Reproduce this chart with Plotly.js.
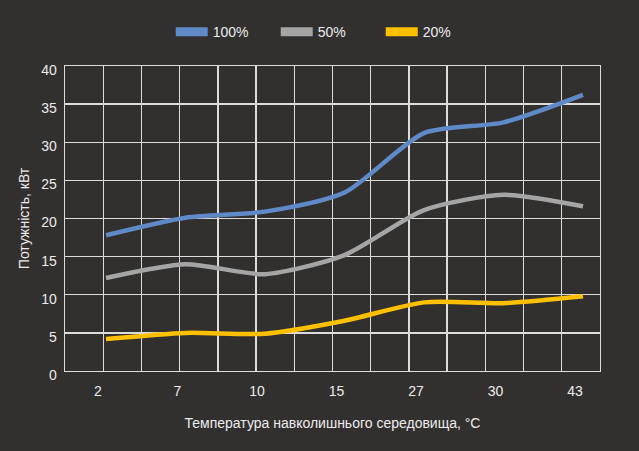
<!DOCTYPE html>
<html>
<head>
<meta charset="utf-8">
<script src="https://cdn.plot.ly/plotly-3.0.1.min.js"></script>
<style>
	html, body { margin: 0; padding: 0; background: #322f2f; }
	#chart { width: 639px; height: 451px; }
</style>
</head>
<body>
<div id="chart"></div>
<script>
// ambient temperature categories, °C
const temps = ['2', '7', '10', '15', '27', '30', '43'];
// power, kW, per load level
const load100 = [17.8, 20.1, 20.9, 23.4, 31.2, 32.6, 36.2];
const load50 = [12.2, 14.0, 12.7, 15.2, 21.1, 23.1, 21.6];
const load20 = [4.2, 5.0, 4.9, 6.6, 9.0, 8.9, 9.8];
const seriesNames = ['100%', '50%', '20%'];
const seriesColors = ['#5f8ac7', '#a5a5a5', '#ffc000'];

const idx = temps.map((t, i) => i);
const gridColor = '#dcdcdc';
const textColor = '#ececec';
const font = 'Liberation Sans, Arial, sans-serif';

const curves = [load100, load50, load20].map((vals, i) => ({
	x: idx,
	y: vals,
	type: 'scatter',
	mode: 'lines',
	name: seriesNames[i],
	line: { color: seriesColors[i], width: 4.5, shape: 'spline', smoothing: 0.7 },
	showlegend: false,
	hoverinfo: 'skip',
}));

// legend swatches (wide flat bars like the original)
const keys = seriesNames.map((name, i) => ({
	x: [null],
	y: [null],
	type: 'scatter',
	mode: 'lines',
	name: name,
	line: { color: seriesColors[i], width: 9 },
	showlegend: true,
}));

const xLeft = -0.5157;
const xRight = 6.2138;

const layout = {
	width: 639,
	height: 451,
	paper_bgcolor: '#322f2f',
	plot_bgcolor: '#322f2f',
	margin: { l: 65, r: 39, t: 66, b: 80 },
	font: { family: font, size: 14, color: textColor },
	showlegend: true,
	legend: {
		orientation: 'h',
		x: 0.492,
		xanchor: 'center',
		y: 1.111,
		yanchor: 'middle',
		itemwidth: 32,
		entrywidth: 58,
		entrywidthmode: 'pixels',
		font: { family: font, size: 14, color: textColor },
		bgcolor: 'rgba(0,0,0,0)',
	},
	xaxis: {
		range: [xLeft, xRight],
		tickmode: 'array',
		tickvals: idx,
		ticktext: temps,
		ticklabelshift: -8,
		ticklabelstandoff: 7,
		showgrid: false,
		zeroline: false,
		showline: true,
		mirror: true,
		linecolor: gridColor,
		linewidth: 1.3,
		ticks: '',
		minor: {
			tickmode: 'linear',
			tick0: xLeft,
			dtick: (xRight - xLeft) / 14,
			showgrid: true,
			gridcolor: gridColor,
			gridwidth: 1.3,
			ticks: '',
		},
		title: {
			text: 'Температура навколишнього середовища, °С',
			font: { family: font, size: 14, color: textColor },
			standoff: 20,
		},
		fixedrange: true,
	},
	yaxis: {
		range: [0, 40],
		dtick: 5,
		showgrid: true,
		gridcolor: gridColor,
		gridwidth: 1.3,
		zeroline: false,
		showline: true,
		mirror: true,
		linecolor: gridColor,
		linewidth: 1.3,
		ticks: '',
		ticklabelshift: 4,
		ticklabelstandoff: 4,
		title: {
			text: 'Потужність, кВт',
			font: { family: font, size: 14, color: textColor },
			standoff: 8,
		},
		fixedrange: true,
	},
};

Plotly.newPlot('chart', curves.concat(keys), layout, { displayModeBar: false, staticPlot: true });
</script>
</body>
</html>
